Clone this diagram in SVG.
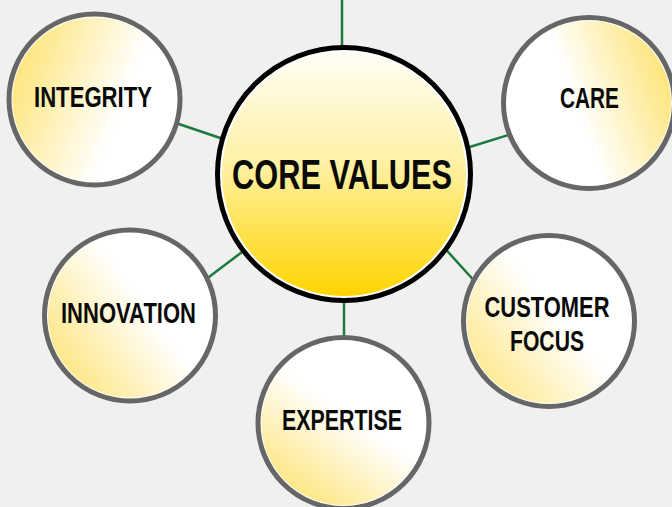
<svg xmlns="http://www.w3.org/2000/svg" width="672" height="507" viewBox="0 0 672 507">
<defs>
<style>
.ring{fill:#ffffff;stroke:#666666;stroke-width:5}
.lbl{font-family:"Liberation Sans",Arial,sans-serif;font-weight:bold;font-size:29px;fill:#0a0a0a;text-anchor:middle}
.big{font-size:42px}
.conn{stroke:#1b7a3e;stroke-width:2.5;fill:none}
</style>
<linearGradient id="gCore" x1="0" y1="0" x2="0" y2="1">
<stop offset="0" stop-color="#fffef6"/>
<stop offset="0.45" stop-color="#fff1a6"/>
<stop offset="1" stop-color="#ffd400"/>
</linearGradient>
<linearGradient id="gInt" x1="0" y1="0.35" x2="0.65" y2="0.6">
<stop offset="0" stop-color="#fde57c"/>
<stop offset="1" stop-color="#ffffff"/>
</linearGradient>
<linearGradient id="gCare" x1="1" y1="0.4" x2="0.45" y2="0.6">
<stop offset="0" stop-color="#fde57c"/>
<stop offset="1" stop-color="#ffffff"/>
</linearGradient>
<linearGradient id="gInn" x1="0.05" y1="0.85" x2="0.6" y2="0.45">
<stop offset="0" stop-color="#fde57c"/>
<stop offset="1" stop-color="#ffffff"/>
</linearGradient>
<linearGradient id="gExp" x1="0.25" y1="1" x2="0.6" y2="0.5">
<stop offset="0" stop-color="#fde57c"/>
<stop offset="1" stop-color="#ffffff"/>
</linearGradient>
<linearGradient id="gCus" x1="0" y1="0.9" x2="0.55" y2="0.45">
<stop offset="0" stop-color="#fde57c"/>
<stop offset="1" stop-color="#ffffff"/>
</linearGradient>
</defs>
<rect width="672" height="507" fill="#f0f0f0"/>
<g id="connectors">
<line class="conn" x1="342" y1="0" x2="342" y2="60" stroke-width="4"/>
<line class="conn" x1="170" y1="121" x2="232" y2="142"/>
<line class="conn" x1="460" y1="150" x2="515" y2="133"/>
<line class="conn" x1="205" y1="280" x2="250" y2="246"/>
<line class="conn" x1="440" y1="243" x2="478" y2="285"/>
<line class="conn" x1="344" y1="290" x2="344" y2="345"/>
</g>
<g id="core">
<circle cx="344" cy="174" r="126.5" fill="#ffffff" stroke="#000000" stroke-width="5"/>
<circle cx="344" cy="174" r="122" fill="url(#gCore)"/>
<text class="lbl big" x="342" y="189" textLength="220" lengthAdjust="spacingAndGlyphs">CORE VALUES</text>
</g>
<g id="integrity">
<circle class="ring" cx="94.5" cy="99.5" r="85.5"/>
<circle cx="94.5" cy="99.5" r="82" fill="url(#gInt)"/>
<text class="lbl" x="93" y="107" textLength="118" lengthAdjust="spacingAndGlyphs">INTEGRITY</text>
</g>
<g id="care">
<circle class="ring" cx="589" cy="103" r="85.5"/>
<circle cx="589" cy="103" r="82" fill="url(#gCare)"/>
<text class="lbl" x="589.5" y="108" textLength="59" lengthAdjust="spacingAndGlyphs">CARE</text>
</g>
<g id="innovation">
<circle class="ring" cx="130" cy="315.5" r="85.5"/>
<circle cx="130" cy="315.5" r="82" fill="url(#gInn)"/>
<text class="lbl" x="128.5" y="322.5" textLength="135" lengthAdjust="spacingAndGlyphs">INNOVATION</text>
</g>
<g id="expertise">
<circle class="ring" cx="343.5" cy="423" r="85.5"/>
<circle cx="343.5" cy="423" r="82" fill="url(#gExp)"/>
<text class="lbl" x="342" y="430" textLength="120" lengthAdjust="spacingAndGlyphs">EXPERTISE</text>
</g>
<g id="customer-focus">
<circle class="ring" cx="549" cy="321" r="85.5"/>
<circle cx="549" cy="321" r="82" fill="url(#gCus)"/>
<text class="lbl" x="547" y="316.5" textLength="125" lengthAdjust="spacingAndGlyphs">CUSTOMER</text>
<text class="lbl" x="547" y="351" textLength="74" lengthAdjust="spacingAndGlyphs">FOCUS</text>
</g>
</svg>
